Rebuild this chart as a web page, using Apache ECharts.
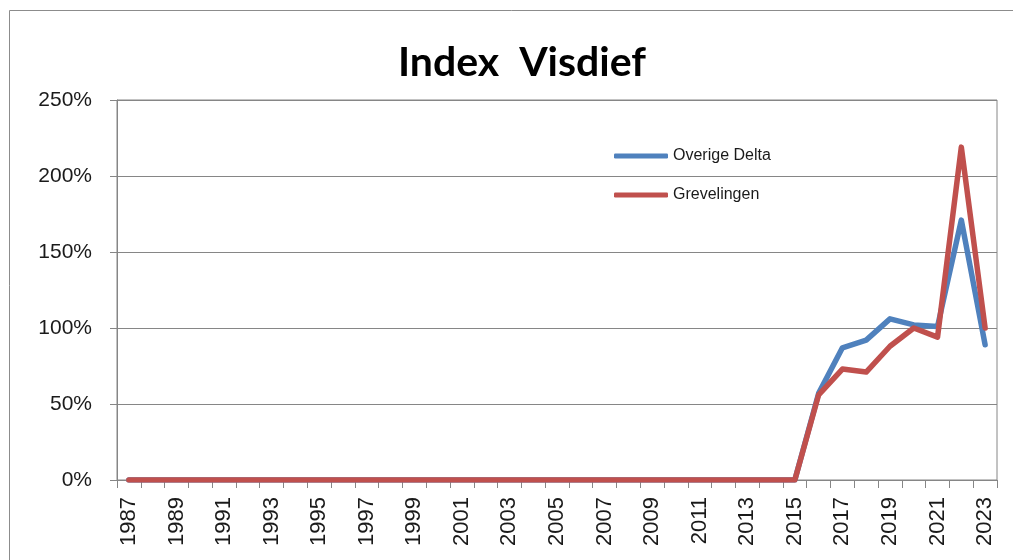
<!DOCTYPE html>
<html>
<head>
<meta charset="utf-8">
<title>Index Visdief</title>
<script src="https://cdn.jsdelivr.net/npm/echarts@6/dist/echarts.min.js"></script>
<style>
  html, body { margin: 0; padding: 0; background: #ffffff; }
  #chart { width: 1013px; height: 560px; }
</style>
</head>
<body>
<div id="chart"></div>
<script>
// Years on the category axis
const years = [];
for (let y = 1987; y <= 2023; y++) years.push(String(y));

// Index values in percent, one per year (1987..2023)
const overigeDelta = [
  0, 0, 0, 0, 0, 0, 0, 0, 0, 0,
  0, 0, 0, 0, 0, 0, 0, 0, 0, 0,
  0, 0, 0, 0, 0, 0, 0, 0, 0,
  57, 87, 92, 106, 102, 101, 171, 89
];
const grevelingen = [
  0, 0, 0, 0, 0, 0, 0, 0, 0, 0,
  0, 0, 0, 0, 0, 0, 0, 0, 0, 0,
  0, 0, 0, 0, 0, 0, 0, 0, 0,
  56, 73, 71, 88, 100, 94, 219, 100
];

// Value axis ticks (percent)
const yTicks = { min: 0, max: 250, step: 50 };

const seriesNames = ['Overige Delta', 'Grevelingen'];
const seriesColors = ['#4F81BD', '#C0504D'];

const chart = echarts.init(document.getElementById('chart'));

const lineSeries = (name, data, color) => ({
  name: name,
  type: 'line',
  data: data,
  symbol: 'none',
  smooth: false,
  color: color,
  lineStyle: { width: 5.5, color: color, join: 'round', cap: 'round' },
  emphasis: { disabled: true },
  z: 3
});

chart.setOption({
  animation: false,
  backgroundColor: '#ffffff',
  title: {
    text: 'Index  Visdief',
    left: 517,
    textAlign: 'center',
    top: 37,
    textStyle: {
      fontFamily: 'Lato',
      fontWeight: 'bold',
      fontSize: 41,
      color: '#000000'
    }
  },
  legend: {
    orient: 'vertical',
    left: 609,
    top: 143,
    itemGap: 23,
    itemWidth: 54,
    itemHeight: 5,
    icon: 'roundRect',
    data: seriesNames,
    textStyle: {
      fontFamily: 'Liberation Sans',
      fontSize: 16,
      color: '#1a1a1a'
    }
  },
  graphic: [
    {
      // outer chart frame (top and left edges visible)
      type: 'rect',
      shape: { x: 9.5, y: 10.5, width: 1100, height: 700 },
      style: { fill: 'none', stroke: '#8c8c8c', lineWidth: 1 },
      silent: true
    }
  ],
  grid: {
    left: 117,
    right: 16,
    top: 100,
    bottom: 80,
    show: true,
    borderColor: '#868686',
    borderWidth: 1,
    backgroundColor: 'transparent'
  },
  xAxis: {
    type: 'category',
    data: years,
    boundaryGap: true,
    axisLine: { show: true, lineStyle: { color: '#868686', width: 1 } },
    axisTick: { show: true, interval: 0, length: 8, alignWithLabel: false, lineStyle: { color: '#868686' } },
    axisLabel: {
      interval: 1,
      rotate: 90,
      margin: 17,
      fontFamily: 'Liberation Sans',
      fontSize: 22,
      color: '#1a1a1a'
    },
    splitLine: { show: false }
  },
  yAxis: {
    type: 'value',
    min: yTicks.min,
    max: yTicks.max,
    interval: yTicks.step,
    axisLine: { show: true, lineStyle: { color: '#868686', width: 1 } },
    axisTick: { show: true, length: 7, lineStyle: { color: '#868686' } },
    axisLabel: {
      formatter: '{value}%',
      margin: 25,
      fontFamily: 'Liberation Sans',
      fontSize: 21,
      color: '#1a1a1a'
    },
    splitLine: { show: true, lineStyle: { color: '#868686', width: 1 } }
  },
  series: [
    lineSeries(seriesNames[0], overigeDelta, seriesColors[0]),
    lineSeries(seriesNames[1], grevelingen, seriesColors[1])
  ]
});
</script>
</body>
</html>
